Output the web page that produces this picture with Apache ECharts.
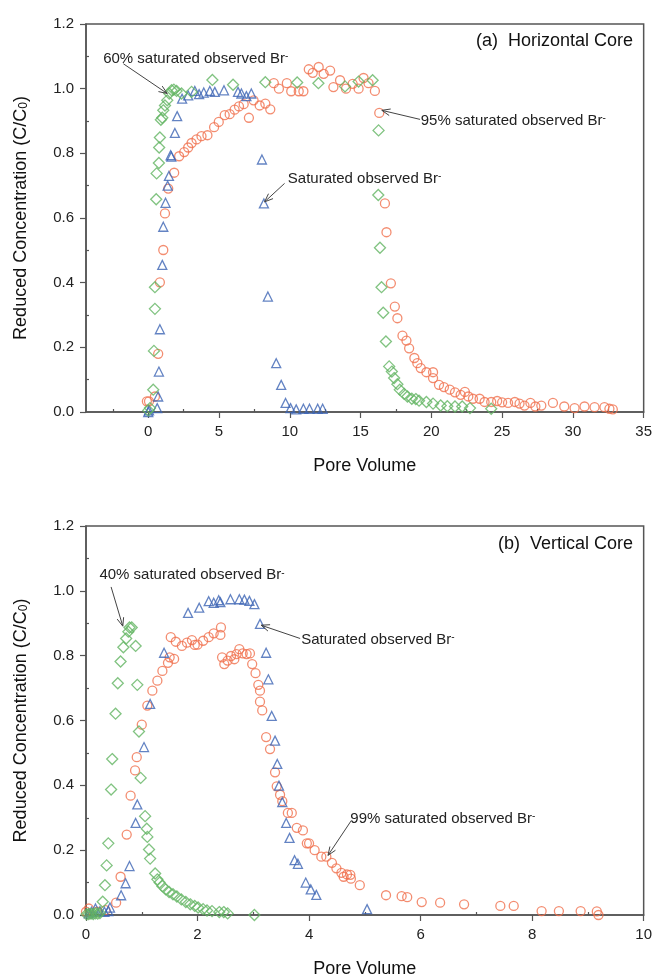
<!DOCTYPE html>
<html><head><meta charset="utf-8">
<script src="https://cdn.jsdelivr.net/npm/echarts@6/dist/echarts.min.js"></script>
<style>html,body{margin:0;padding:0;background:#fff}#c{width:655px;height:979px}</style>
</head><body><div id="c"></div>
<script>
// ---------- DATA ----------
// (a) Horizontal core
const topSaturated = [[0,0],[0.05,0.005],[0.63,0.012],[0.70,0.048],[0.75,0.125],[0.82,0.256],[0.99,0.455],[1.06,0.573],[1.22,0.647],[1.37,0.70],[1.46,0.73],[1.58,0.794],[1.63,0.79],[1.88,0.863],[2.04,0.915],[2.39,0.969],[2.82,0.979],[3.29,0.993],[3.59,0.983],[3.92,0.988],[4.35,0.993],[4.7,0.99],[5.35,0.995],[6.34,0.99],[6.58,0.985],[6.93,0.977],[7.28,0.985],[8.03,0.781],[8.17,0.645],[8.45,0.357],[9.04,0.151],[9.39,0.084],[9.7,0.028],[10.05,0.012],[10.45,0.008],[10.96,0.01],[11.39,0.01],[11.97,0.01],[12.32,0.01]];
const top60 = [[0.0,0.005],[0.12,0.012],[0.35,0.069],[0.40,0.189],[0.47,0.319],[0.47,0.386],[0.56,0.658],[0.59,0.738],[0.75,0.77],[0.77,0.818],[0.82,0.849],[0.89,0.904],[0.99,0.91],[1.06,0.933],[1.18,0.948],[1.34,0.964],[1.48,0.985],[1.65,0.995],[1.81,0.997],[2.0,0.993],[2.35,0.985],[3.06,0.99],[4.53,1.027],[5.99,1.012],[8.27,1.02],[10.52,1.019],[12.02,1.017],[13.9,1.007],[14.86,1.022],[15.85,1.026],[16.27,0.871],[16.25,0.671],[16.37,0.508],[16.48,0.386],[16.6,0.307],[16.79,0.218],[17.02,0.141],[17.21,0.125],[17.37,0.105],[17.6,0.086],[17.77,0.069],[18.08,0.056],[18.31,0.048],[18.62,0.041],[18.9,0.04],[19.13,0.035],[19.65,0.031],[20.12,0.026],[20.66,0.02],[21.13,0.018],[21.67,0.017],[22.18,0.017],[22.73,0.012],[24.23,0.01]];
const top95 = [[-0.1,0.033],[0.05,0.033],[0.47,0.048],[0.7,0.18],[0.82,0.401],[1.06,0.501],[1.18,0.614],[1.41,0.691],[1.83,0.74],[2.18,0.791],[2.54,0.804],[2.82,0.818],[3.06,0.832],[3.41,0.843],[3.76,0.853],[4.18,0.856],[4.65,0.881],[4.98,0.897],[5.4,0.918],[5.75,0.921],[6.1,0.935],[6.41,0.945],[6.74,0.952],[7.11,0.91],[7.44,0.964],[7.87,0.948],[8.27,0.954],[8.62,0.936],[8.87,1.017],[9.23,1.0],[9.79,1.017],[10.1,0.992],[10.63,0.992],[10.96,0.992],[11.34,1.06],[11.62,1.049],[12.04,1.067],[12.39,1.046],[12.85,1.056],[13.08,1.005],[13.55,1.026],[13.97,1.0],[14.44,1.015],[14.86,1.0],[15.21,1.033],[15.56,1.017],[16.01,0.993],[16.32,0.925],[16.72,0.645],[16.83,0.556],[17.14,0.398],[17.42,0.326],[17.6,0.29],[17.96,0.236],[18.24,0.221],[18.43,0.197],[18.8,0.167],[19.01,0.151],[19.25,0.136],[19.65,0.123],[20.12,0.123],[20.12,0.105],[20.54,0.084],[20.89,0.077],[21.3,0.069],[21.67,0.061],[22.07,0.053],[22.37,0.062],[22.61,0.048],[22.94,0.041],[23.41,0.041],[23.76,0.031],[24.23,0.031],[24.65,0.034],[25.0,0.03],[25.42,0.028],[25.9,0.031],[26.23,0.026],[26.58,0.02],[27.0,0.028],[27.35,0.017],[27.77,0.02],[28.59,0.028],[29.39,0.017],[30.12,0.012],[30.82,0.017],[31.53,0.015],[32.23,0.015],[32.58,0.01],[32.82,0.008]];
// (b) Vertical core
const botSaturated = [[0.05,0.005],[0.1,0.01],[0.17,0.02],[0.25,0.012],[0.33,0.01],[0.40,0.012],[0.43,0.023],[0.63,0.061],[0.71,0.098],[0.78,0.151],[0.89,0.284],[0.92,0.341],[1.04,0.518],[1.15,0.651],[1.40,0.809],[1.83,0.932],[2.03,0.948],[2.2,0.968],[2.29,0.963],[2.38,0.971],[2.41,0.965],[2.59,0.974],[2.75,0.974],[2.84,0.973],[2.93,0.969],[3.02,0.959],[3.12,0.898],[3.23,0.809],[3.27,0.727],[3.33,0.614],[3.39,0.538],[3.43,0.466],[3.46,0.399],[3.52,0.348],[3.59,0.284],[3.65,0.238],[3.74,0.169],[3.80,0.158],[3.94,0.1],[4.03,0.079],[4.13,0.062],[5.04,0.018]];
const bot40 = [[0.01,0.002],[0.05,0.003],[0.09,0.004],[0.13,0.003],[0.17,0.005],[0.21,0.004],[0.25,0.006],[0.30,0.041],[0.34,0.092],[0.37,0.153],[0.40,0.221],[0.45,0.387],[0.47,0.481],[0.53,0.621],[0.57,0.715],[0.62,0.782],[0.67,0.826],[0.72,0.853],[0.76,0.874],[0.78,0.887],[0.82,0.887],[0.89,0.83],[0.92,0.71],[0.95,0.566],[0.98,0.423],[1.06,0.305],[1.09,0.266],[1.10,0.241],[1.13,0.202],[1.15,0.174],[1.24,0.128],[1.28,0.11],[1.32,0.1],[1.37,0.089],[1.43,0.079],[1.49,0.071],[1.56,0.064],[1.63,0.057],[1.71,0.048],[1.79,0.04],[1.87,0.033],[1.95,0.028],[2.01,0.023],[2.1,0.018],[2.17,0.014],[2.26,0.012],[2.39,0.009],[2.47,0.009],[2.54,0.005],[3.02,0.0]];
const bot99 = [[0.0,0.01],[0.05,0.02],[0.2,0.01],[0.35,0.015],[0.54,0.038],[0.62,0.118],[0.73,0.248],[0.80,0.368],[0.88,0.446],[0.91,0.487],[1.0,0.587],[1.10,0.646],[1.19,0.692],[1.28,0.723],[1.37,0.753],[1.47,0.778],[1.50,0.795],[1.58,0.79],[1.52,0.857],[1.61,0.843],[1.72,0.83],[1.81,0.84],[1.90,0.848],[1.95,0.833],[2.0,0.834],[2.10,0.846],[2.20,0.857],[2.29,0.869],[2.41,0.864],[2.42,0.887],[2.44,0.795],[2.48,0.774],[2.54,0.785],[2.60,0.799],[2.66,0.789],[2.70,0.805],[2.75,0.82],[2.81,0.807],[2.88,0.805],[2.94,0.807],[2.98,0.774],[3.04,0.746],[3.09,0.71],[3.12,0.692],[3.12,0.658],[3.16,0.631],[3.23,0.549],[3.30,0.512],[3.39,0.44],[3.42,0.397],[3.48,0.371],[3.52,0.351],[3.62,0.315],[3.69,0.315],[3.78,0.269],[3.89,0.261],[3.96,0.221],[4.0,0.221],[4.10,0.2],[4.22,0.18],[4.31,0.18],[4.41,0.161],[4.49,0.144],[4.58,0.13],[4.62,0.118],[4.68,0.125],[4.74,0.124],[4.75,0.112],[4.91,0.092],[5.38,0.061],[5.66,0.058],[5.76,0.055],[6.02,0.04],[6.35,0.038],[6.78,0.033],[7.43,0.028],[7.67,0.028],[8.17,0.012],[8.48,0.012],[8.87,0.012],[9.16,0.011],[9.19,0.0]];

// ticks
const topXTicks = [0,5,10,15,20,25,30,35];
const topXMinor = [-2.5,2.5,7.5,12.5,17.5,22.5,27.5,32.5];
const botXTicks = [0,2,4,6,8,10];
const botXMinor = [1,3,5,7,9];
const yTicks = [0,0.2,0.4,0.6,0.8,1.0,1.2];
const yMinor = [0.1,0.3,0.5,0.7,0.9,1.1];

// annotations (data coordinates)
const topNotes = [
  {text:'60% saturated observed Br', at:[-3.19,1.093], from:[-1.76,1.077], to:[1.34,0.985]},
  {text:'Saturated observed Br', at:[9.86,0.722], from:[9.63,0.707], to:[8.22,0.65]},
  {text:'95% saturated observed Br', at:[19.25,0.9], from:[19.2,0.905], to:[16.5,0.933]}
];
const botNotes = [
  {text:'40% saturated observed Br', at:[0.24,1.048], from:[0.45,1.012], to:[0.66,0.891]},
  {text:'Saturated observed Br', at:[3.86,0.848], from:[3.84,0.853], to:[3.14,0.894]},
  {text:'99% saturated observed Br', at:[4.74,0.298], from:[4.76,0.292], to:[4.34,0.184]}
];

// ---------- CHART ----------
const FONT = '"Liberation Sans", Arial, sans-serif';
const AX = '#555';
const C_OR = '#f0704e', C_BL = '#3c64b4', C_GR = '#62b462';

function mainX(grid, min, max, ticks, gap){
  return {type:'value', gridIndex:grid, position:'bottom', min:min, max:max,
    name:'Pore Volume', nameLocation:'middle', nameGap:gap,
    nameTextStyle:{fontSize:18, color:'#111', fontFamily:FONT},
    axisLine:{show:true, onZero:false, lineStyle:{color:AX, width:1.5}},
    axisTick:{show:true, inside:false, length:6, customValues:ticks, lineStyle:{color:AX, width:1.2}},
    axisLabel:{customValues:ticks, fontSize:15, color:'#222', margin:12, fontFamily:FONT},
    splitLine:{show:false}};
}
function minorAx(grid, pos, min, max, ticks){
  return {type:'value', gridIndex:grid, position:pos, min:min, max:max,
    axisLine:{show:false, onZero:false},
    axisTick:{show:true, inside:true, length:3, customValues:ticks, lineStyle:{color:AX, width:1.2}},
    axisLabel:{show:false}, splitLine:{show:false}};
}
function mainY(grid){
  return {type:'value', gridIndex:grid, position:'left', min:0, max:1.2,
    name:'{a|Reduced Concentration (C/C}{b|0}{a|)}', nameLocation:'middle', nameGap:56,
    nameTextStyle:{fontFamily:FONT, color:'#111', rich:{a:{fontSize:18, fontFamily:FONT, color:'#111'}, b:{fontSize:12, fontFamily:FONT, color:'#111', verticalAlign:'bottom', padding:[6,0,0,0]}}},
    axisLine:{show:true, onZero:false, lineStyle:{color:AX, width:1.5}},
    axisTick:{show:true, inside:false, length:6, customValues:yTicks, lineStyle:{color:AX, width:1.2}},
    axisLabel:{customValues:yTicks, fontSize:15, color:'#222', margin:12, fontFamily:FONT, formatter:v=>v.toFixed(1)},
    splitLine:{show:false}};
}
function sc(name, data, xi, yi, sym, color, size){
  return {type:'scatter', name:name, data:data, xAxisIndex:xi, yAxisIndex:yi,
    symbol:sym, symbolSize:size, silent:true,
    itemStyle:{color:'rgba(255,255,255,0)', borderColor:color, borderWidth:1.3}};
}

const chart = echarts.init(document.getElementById('c'), null, {renderer:'canvas'});
chart.setOption({
  animation:false,
  backgroundColor:'#fff',
  grid:[
    {left:86, top:24, width:558, height:388, show:true, borderColor:AX, borderWidth:1.5, backgroundColor:'transparent'},
    {left:86, top:526, width:560, height:390, show:true, borderColor:AX, borderWidth:1.5, backgroundColor:'transparent'}
  ],
  xAxis:[ mainX(0,-4.4,35,topXTicks,45), minorAx(0,'bottom',-4.4,35,topXMinor), mainX(1,0,10,botXTicks,45), minorAx(1,'bottom',0,10,botXMinor) ],
  yAxis:[ mainY(0), minorAx(0,'left',0,1.2,yMinor), mainY(1), minorAx(1,'left',0,1.2,yMinor) ],
  series:[
    sc('95% saturated', top95, 0, 0, 'circle', C_OR, 9),
    sc('Saturated', topSaturated, 0, 0, 'triangle', C_BL, 9),
    sc('60% saturated', top60, 0, 0, 'diamond', C_GR, 11),
    sc('99% saturated', bot99, 2, 2, 'circle', C_OR, 9),
    sc('Saturated', botSaturated, 2, 2, 'triangle', C_BL, 9),
    sc('40% saturated', bot40, 2, 2, 'diamond', C_GR, 11)
  ]
});

function noteGraphics(notes, xi, yi){
  const out = [];
  notes.forEach(n => {
    const p = chart.convertToPixel({xAxisIndex:xi, yAxisIndex:yi}, n.at);
    const a = chart.convertToPixel({xAxisIndex:xi, yAxisIndex:yi}, n.from);
    const b = chart.convertToPixel({xAxisIndex:xi, yAxisIndex:yi}, n.to);
    out.push({type:'text', x:p[0], y:p[1], silent:true, z:50,
      style:{text:'{a|'+n.text+'}{s|-}', verticalAlign:'middle', align:'left',
        rich:{a:{fontSize:15, fontFamily:FONT, fill:'#222'}, s:{fontSize:10, fontFamily:FONT, fill:'#222', verticalAlign:'top'}}}});
    out.push({type:'line', silent:true, z:50, shape:{x1:a[0], y1:a[1], x2:b[0], y2:b[1]}, style:{stroke:'#444', lineWidth:1}});
    const ang = Math.atan2(a[1]-b[1], a[0]-b[0]);
    const L = 9, w = 0.38;
    [ang+w, ang-w].forEach(t => {
      out.push({type:'line', silent:true, z:50, shape:{x1:b[0], y1:b[1], x2:b[0]+L*Math.cos(t), y2:b[1]+L*Math.sin(t)}, style:{stroke:'#444', lineWidth:1}});
    });
  });
  return out;
}
const g = [].concat(noteGraphics(topNotes,0,0), noteGraphics(botNotes,2,2));
g.push({type:'text', right:22, top:32, silent:true, z:50, style:{text:'(a)  Horizontal Core', fontSize:18, fontFamily:FONT, fill:'#111'}});
g.push({type:'text', right:22, top:535, silent:true, z:50, style:{text:'(b)  Vertical Core', fontSize:18, fontFamily:FONT, fill:'#111'}});
chart.setOption({graphic:g});
</script></body></html>
